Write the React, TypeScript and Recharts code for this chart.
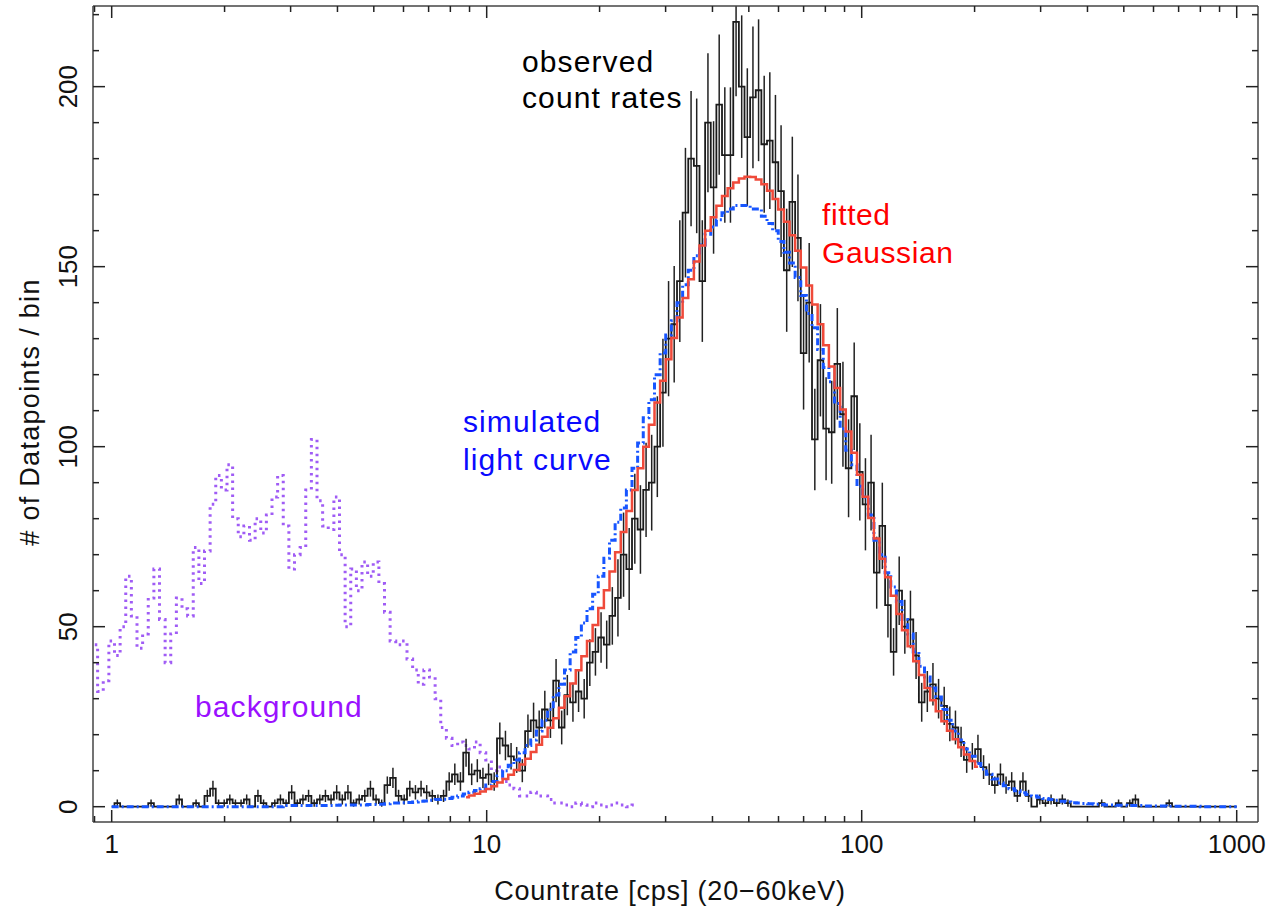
import React from 'react';
import { ComposedChart, Line, XAxis, YAxis, ErrorBar } from 'recharts';

// ---------- data (histogram bins on a log grid, 0.015 dex wide) ----------
const LOG_STEP = 0.015;

const OBS_LOG_START = 0; // first bin centre = 1 cps
const observedCounts = [
  0, 1, 0, 0, 0, 0, 0, 1, 0, 0,
  0, 0, 2, 0, 0, 1, 0, 3, 5, 1,
  1, 2, 1, 1, 2, 0, 3, 1, 0, 1,
  2, 1, 4, 1, 2, 3, 1, 2, 3, 2,
  4, 2, 4, 1, 2, 3, 5, 2, 1, 6,
  8, 3, 2, 5, 4, 5, 4, 3, 2, 3,
  7, 9, 7, 15, 9, 10, 8, 9, 7, 19,
  17, 14, 13, 10, 21, 24, 22, 27, 24, 35,
  22, 31, 29, 32, 30, 40, 43, 47, 45, 53,
  58, 70, 66, 80, 77, 88, 90, 100, 115, 130,
  134, 146, 165, 180, 178, 146, 190, 172, 195, 181,
  181, 218, 200, 186, 197, 199, 184, 185, 179, 171,
  149, 168, 158, 126, 140, 102, 124, 105, 104, 123,
  109, 94, 114, 93, 84, 90, 65, 78, 56, 43,
  60, 50, 52, 42, 29, 32, 34, 30, 28, 23,
  22, 18, 13, 14, 16, 11, 9, 6, 9, 6,
  7, 3, 7, 3, 0, 2, 1, 2, 1, 2,
  1, 0, 0, 0, 0, 0, 1, 0, 0, 1,
  0, 1, 2, 0, 0, 0, 0, 0, 1, 0,
  0, 0, 0, 0, 0, 0, 0, 0, 0, 0,
  0,
];
// error bar half-lengths ([down, up] where the bar meets the frame)
const observedErrors: (number | number[])[] = [
  0, 1, 0, 0, 0, 0, 0, 1, 0, 0,
  0, 0, 1.4, 0, 0, 1, 0, 1.7, 2.2, 1,
  1, 1.4, 1, 1, 1.4, 0, 1.7, 1, 0, 1,
  1.4, 1, 2, 1, 1.4, 1.7, 1, 1.4, 1.7, 1.4,
  2, 1.4, 2, 1, 1.4, 1.7, 2.2, 1.4, 1, 2.4,
  2.8, 1.7, 1.4, 2.2, 2, 2.2, 2, 1.7, 1.4, 1.7,
  2.6, 3, 2.6, 3.9, 3, 3.2, 2.8, 3, 2.6, 4.4,
  4.1, 3.7, 3.6, 3.2, 4.6, 4.9, 4.7, 5.2, 4.9, 6,
  4.7, 5.6, 5.4, 5.7, 5.5, 6.5, 6.6, 7, 6.7, 8,
  10.7, 11.7, 11.4, 12.5, 12.3, 13.1, 13.3, 14, 15, 16,
  16.2, 16.9, 18, 18.8, 18.7, 16.9, 19.3, 18.4, 19.5, 18.8,
  18.8, [20.7, 4.4], 19.8, 19.1, 19.7, 19.7, 19, 19, 18.7, 18.3,
  17.1, 18.1, 17.6, 15.7, 16.6, 14.1, 15.6, 14.3, 14.3, 15.5,
  14.6, 13.6, 14.9, 13.5, 12.8, 13.3, 10, 12, 9, 6.6,
  9.5, 7.5, 8, 6.5, 5.4, 5.7, 5.9, 5.5, 5.3, 4.8,
  4.7, 4.2, 3.6, 3.7, 4, 3.3, 3, 2.4, 3, 2.4,
  2.6, 1.7, 2.6, 1.7, 0, 1.4, 1, 1.4, 1, 1.4,
  1, 0, 0, 0, 0, 0, 1, 0, 0, 1,
  0, 1, 1.4, 0, 0, 0, 0, 0, 1, 0,
  0, 0, 0, 0, 0, 0, 0, 0, 0, 0,
  0,
];

const SIM_LOG_START = 0;
const simulatedCurve = [
  0, 0, 0, 0, 0, 0, 0, 0, 0, 0,
  0, 0, 0, 0, 0, 0, 0, 0, 0, 0,
  0, 0, 0, 0, 0, 0, 0, 0, 0, 0,
  0, 0.3, 0.3, 0.3, 0.3, 0.3, 0.3, 0.3, 0.3, 0.3,
  0.4, 0.5, 0.5, 0.5, 0.5, 0.5, 0.6, 0.6, 0.7, 0.8,
  1, 1, 1.1, 1.2, 1.3, 1.5, 1.6, 1.8, 2, 2.1,
  2.3, 2.6, 3, 3.5, 4, 4.5, 5, 6, 7, 8.5,
  10, 11.5, 13, 15, 17, 18.5, 21, 24, 27, 31,
  34, 38, 43, 47, 51, 55, 59, 64, 69, 74,
  79, 83, 88, 94, 101, 108, 113, 120, 126, 131,
  135, 140, 145, 149, 153, 156, 159, 161, 163, 165,
  166, 167, 167, 167, 166, 166, 164, 162, 160, 157,
  154, 151, 147, 142, 137, 133, 127, 122, 118, 112,
  105, 99, 95, 89, 86, 81, 74, 70, 65, 61,
  57, 52, 48, 43, 39, 36, 33, 30.5, 27, 24,
  21, 18.5, 16, 14, 12, 10.5, 9, 7.7, 6.6, 5.8,
  5, 4.4, 3.9, 3.4, 3, 2.6, 2.3, 2, 1.8, 1.5,
  1.3, 1.1, 1, 0.9, 0.8, 0.7, 0.6, 0.5, 0.5, 0.4,
  0.4, 0.3, 0.3, 0.3, 0.2, 0.2, 0.2, 0.2, 0.1, 0.1,
  0.1, 0.1, 0.1, 0.1, 0, 0, 0, 0, 0, 0,
  0,
];

const GAUSS_LOG_START = 0.945;
const fittedGaussian = [
  2.6, 3.1, 3.6, 4.2, 4.9, 5.7, 6.7, 7.7, 8.9, 10.2,
  11.7, 13.3, 15.2, 17.2, 19.4, 21.9, 24.6, 27.5, 30.7, 34.2,
  37.9, 41.8, 46.0, 50.5, 55.2, 60.1, 65.3, 70.7, 76.3, 82.1,
  88.0, 94.0, 100.0, 106.1, 112.3, 118.3, 124.3, 130.2, 135.9, 141.3,
  146.5, 151.4, 155.9, 160.0, 163.7, 166.9, 169.6, 171.8, 173.4, 174.5,
  175.0, 174.9, 174.2, 172.9, 171.1, 168.8, 165.9, 162.5, 158.7, 154.4,
  149.8, 144.8, 139.5, 134.0, 128.2, 122.3, 116.3, 110.3, 104.2, 98.3,
  92.2, 86.1, 80.2, 74.5, 68.9, 63.7, 58.6, 53.5, 49.0, 44.6,
  40.4, 36.6, 33.0, 29.6, 26.5, 23.7, 21.1, 18.7, 16.5, 14.5,
  12.7, 11.1,
];

const BG_LOG_START = -0.045;
const background = [
  45, 32, 35, 46, 42, 50, 64, 53, 44, 48,
  58, 66, 52, 40, 48, 58, 55, 53, 72, 62,
  71, 84, 92, 88, 95, 80, 75, 78, 74, 80,
  76, 81, 86, 92, 78, 66, 70, 72, 88, 102,
  85, 78, 77, 86, 70, 50, 66, 60, 68, 64,
  68, 62, 54, 46, 45, 46, 41, 38, 34, 38,
  36, 30, 22, 19, 17, 18, 17, 16, 18, 15,
  13, 10, 11, 7, 6, 5, 3, 3, 4, 3,
  3, 2, 1, 1, 0.5, 0, 1, 0.5, 0, 1,
  0.5, 0, 0.5, 1, 0.5, 0, 0.5,
];

const X_TICKS = [0.9, 1, 2, 3, 4, 5, 6, 7, 8, 9, 10, 20, 30, 40, 50, 60, 70, 80, 90, 100, 200, 300, 400, 500, 600, 700, 800, 900, 1000];
const X_MAJOR = [1, 10, 100, 1000];
const Y_TICKS = [0, 10, 20, 30, 40, 50, 60, 70, 80, 90, 100, 110, 120, 130, 140, 150, 160, 170, 180, 190, 200, 210, 220];
const Y_MAJOR = [0, 50, 100, 150, 200];
const X_DOMAIN = [0.8916, 1139.7];
const Y_DOMAIN = [-4.25, 222.4];

const toRows = (start: number, values: number[], errs?: (number | number[])[]) =>
  values.map((v, i) => ({ x: Math.pow(10, start + LOG_STEP * i), v, err: errs ? errs[i] : 0 }));

const obsRows = toRows(OBS_LOG_START, observedCounts, observedErrors);
const simRows = toRows(SIM_LOG_START, simulatedCurve);
const gaussRows = toRows(GAUSS_LOG_START, fittedGaussian);
const bgRows = toRows(BG_LOG_START, background);

const FONT = '"Liberation Sans", Arial, Helvetica, sans-serif';
const TICK_COLOR = '#222';
const MAJOR_LEN = 12;
const MINOR_LEN = 6;

const BottomTick = (props: any) => {
  const { x, y, payload } = props;
  const major = X_MAJOR.includes(payload.value);
  return (
    <g>
      <line x1={x} x2={x} y1={y} y2={y - (major ? MAJOR_LEN : MINOR_LEN)} stroke={TICK_COLOR} strokeWidth={1.5} />
      {major && (
        <text x={x} y={y + 31} textAnchor="middle" fontSize={26} fontFamily={FONT} fill="#111">
          {payload.value}
        </text>
      )}
    </g>
  );
};

const TopTick = (props: any) => {
  const { x, y, payload } = props;
  const major = X_MAJOR.includes(payload.value);
  return <line x1={x} x2={x} y1={y} y2={y + (major ? MAJOR_LEN : MINOR_LEN)} stroke={TICK_COLOR} strokeWidth={1.5} />;
};

const LeftTick = (props: any) => {
  const { x, y, payload } = props;
  const major = Y_MAJOR.includes(payload.value);
  const tx = x - 16;
  return (
    <g>
      <line x1={x} x2={x + (major ? MAJOR_LEN : MINOR_LEN)} y1={y} y2={y} stroke={TICK_COLOR} strokeWidth={1.5} />
      {major && (
        <text x={tx} y={y} transform={`rotate(-90 ${tx} ${y})`} textAnchor="middle" fontSize={26} fontFamily={FONT} fill="#111">
          {payload.value}
        </text>
      )}
    </g>
  );
};

const RightTick = (props: any) => {
  const { x, y, payload } = props;
  const major = Y_MAJOR.includes(payload.value);
  return <line x1={x} x2={x - (major ? MAJOR_LEN : MINOR_LEN)} y1={y} y2={y} stroke={TICK_COLOR} strokeWidth={1.5} />;
};

const axisLine = { stroke: '#444', strokeWidth: 1.5 };
const annot = { fontSize: 30, letterSpacing: 1.1 };

export default function App() {
  return (
    <div style={{ position: 'absolute', left: 0, top: 0, width: 1277, height: 911, background: '#fff' }}>
      <ComposedChart width={1277} height={911} margin={{ top: 0, right: 0, bottom: 0, left: 0 }}>
        <XAxis
          xAxisId="b"
          type="number"
          dataKey="x"
          scale="log"
          domain={X_DOMAIN}
          allowDataOverflow
          ticks={X_TICKS}
          interval={0}
          orientation="bottom"
          height={89}
          tickSize={0}
          tickMargin={0}
          tickLine={false}
          axisLine={axisLine}
          tick={<BottomTick />}
        />
        <XAxis
          xAxisId="t"
          type="number"
          dataKey="x"
          scale="log"
          domain={X_DOMAIN}
          allowDataOverflow
          ticks={X_TICKS}
          interval={0}
          orientation="top"
          height={6}
          tickSize={0}
          tickMargin={0}
          tickLine={false}
          axisLine={axisLine}
          tick={<TopTick />}
        />
        <YAxis
          yAxisId="l"
          type="number"
          domain={Y_DOMAIN}
          allowDataOverflow
          ticks={Y_TICKS}
          interval={0}
          width={93}
          tickSize={0}
          tickMargin={0}
          tickLine={false}
          axisLine={axisLine}
          tick={<LeftTick />}
        />
        <YAxis
          yAxisId="r"
          orientation="right"
          type="number"
          domain={Y_DOMAIN}
          allowDataOverflow
          ticks={Y_TICKS}
          interval={0}
          width={19}
          tickSize={0}
          tickMargin={0}
          tickLine={false}
          axisLine={axisLine}
          tick={<RightTick />}
        />
        <Line
          xAxisId="b"
          yAxisId="l"
          data={bgRows}
          dataKey="v"
          type="step"
          stroke="#a05cf5"
          strokeWidth={3}
          strokeDasharray="2.5 4.5"
          dot={false}
          activeDot={false}
          isAnimationActive={false}
        />
        <Line
          xAxisId="b"
          yAxisId="l"
          data={obsRows}
          dataKey="v"
          type="step"
          stroke="#1a1a1a"
          strokeWidth={1.8}
          dot={false}
          activeDot={false}
          isAnimationActive={false}
        >
          <ErrorBar dataKey="err" direction="y" width={0} stroke="#222" strokeWidth={1.5} isAnimationActive={false} />
        </Line>
        <Line
          xAxisId="b"
          yAxisId="l"
          data={simRows}
          dataKey="v"
          type="step"
          stroke="#1755ff"
          strokeWidth={3}
          strokeDasharray="7 3 2 3"
          dot={false}
          activeDot={false}
          isAnimationActive={false}
        />
        <Line
          xAxisId="b"
          yAxisId="l"
          data={gaussRows}
          dataKey="v"
          type="step"
          stroke="#ef4a3a"
          strokeWidth={2.5}
          dot={false}
          activeDot={false}
          isAnimationActive={false}
        />
      </ComposedChart>
      <svg width={1277} height={911} style={{ position: 'absolute', left: 0, top: 0, pointerEvents: 'none' }} fontFamily={FONT}>
        <text x={522} y={72} {...annot} fill="#000">observed</text>
        <text x={522} y={108} {...annot} fill="#000">count rates</text>
        <text x={822} y={225} {...annot} letterSpacing={0.6} fill="#ff0000">fitted</text>
        <text x={822} y={263} {...annot} letterSpacing={0.6} fill="#ff0000">Gaussian</text>
        <text x={463} y={432} {...annot} fill="#0a0aff">simulated</text>
        <text x={463} y={470} {...annot} fill="#0a0aff">light curve</text>
        <text x={195} y={717} {...annot} fill="#9a10ff">background</text>
        <text x={670} y={900} textAnchor="middle" fontSize={27} letterSpacing={0.8} fill="#111">Countrate [cps] (20−60keV)</text>
        <text x={39} y={412} transform="rotate(-90 39 412)" textAnchor="middle" fontSize={27} letterSpacing={1.3} fill="#111"># of Datapoints / bin</text>
      </svg>
    </div>
  );
}
